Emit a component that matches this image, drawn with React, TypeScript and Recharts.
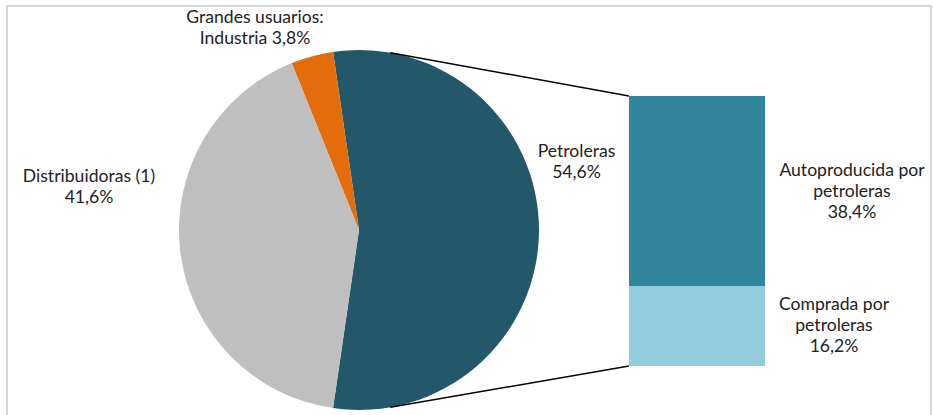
import { PieChart, Pie, Cell, BarChart, Bar, XAxis, YAxis, LabelList } from "recharts";

const W = 933;
const H = 415;

// pie: share of each consumer group (%)
const pieNames = ["Petroleras", "Grandes usuarios: Industria", "Distribuidoras (1)"];
const pieValues = [54.6, 3.8, 41.6];
const pieColors = ["#22586A", "#E46C0A", "#BFBFBF"];
const pieLabels = [
  ["Petroleras", "54,6%"],
  ["Grandes usuarios:", "Industria 3,8%"],
  ["Distribuidoras (1)", "41,6%"],
];

// bar: breakdown of the petroleras slice (%)
const barNames = ["Comprada por petroleras", "Autoproducida por petroleras"];
const barValues = [16.2, 38.4];
const barColors = ["#93CDDD", "#31859C"];
const barLabels = [
  ["Comprada por", "petroleras", "16,2%"],
  ["Autoproducida por", "petroleras", "38,4%"],
];

const pieData = pieNames.map((name, i) => ({ name, value: pieValues[i], color: pieColors[i] }));
const barRow: Record<string, string | number> = { name: "Petroleras" };
barNames.forEach((n, i) => (barRow[n] = barValues[i]));
const barData = [barRow];

// layout
const CX = 359;
const CY = 230;
const R = 180;
const half = (pieValues[0] / 100) * 180;
const BAR = { left: 629, right: 765, top: 96, bottom: 366 };

const font = "Lato, 'Noto Sans', sans-serif";
const textColor = "#222";
const FS = 17.6;
const LH = 21;

const pieLabelPos: Record<string, { x: number; y: number }> = {
  Petroleras: { x: 576.5, y: 156.5 },
  "Grandes usuarios: Industria": { x: 255, y: 23 },
  "Distribuidoras (1)": { x: 89, y: 182 },
};
const barLabelPos = [
  { x: 834, y: 310 },
  { x: 852, y: 176 },
];

function MultiLine({ x, y, lines }: { x: number; y: number; lines: string[] }) {
  return (
    <text x={x} y={y} textAnchor="middle" fontFamily={font} fontSize={FS} fill={textColor}>
      {lines.map((l, i) => (
        <tspan key={i} x={x} dy={i === 0 ? 0 : LH}>
          {l}
        </tspan>
      ))}
    </text>
  );
}

const renderPieLabel = (props: any) => {
  const idx = pieNames.indexOf(props.name);
  const pos = pieLabelPos[props.name];
  if (!pos) return null;
  return <MultiLine x={pos.x} y={pos.y} lines={pieLabels[idx]} />;
};

const barLabel = (i: number) => () => (
  <MultiLine x={barLabelPos[i].x} y={barLabelPos[i].y} lines={barLabels[i]} />
);

export default function App() {
  const a = (80 * Math.PI) / 180;
  const p1 = { x: CX + R * Math.cos(a), y: CY - R * Math.sin(a) };
  const p2 = { x: CX + R * Math.cos(a), y: CY + R * Math.sin(a) };

  return (
    <div style={{ position: "absolute", left: 0, top: 0, width: W, height: H, background: "#fff", overflow: "hidden" }}>
      <svg width={W} height={H} style={{ position: "absolute", left: 0, top: 0 }}>
        <rect x={7} y={6} width={924} height={H + 10} fill="none" stroke="#D6D6D6" strokeWidth={2} />
      </svg>
      <div style={{ position: "absolute", left: 0, top: 0 }}>
        <PieChart width={W} height={H} margin={{ top: 0, right: 0, bottom: 0, left: 0 }}>
          <Pie
            data={pieData}
            dataKey="value"
            nameKey="name"
            cx={CX}
            cy={CY}
            outerRadius={R}
            startAngle={-half}
            endAngle={360 - half}
            stroke="none"
            label={renderPieLabel}
            labelLine={false}
            isAnimationActive={false}
          >
            {pieData.map((d, i) => (
              <Cell key={`cell-${i}`} fill={d.color} />
            ))}
          </Pie>
        </PieChart>
      </div>
      <div style={{ position: "absolute", left: 0, top: 0 }}>
        <BarChart
          width={W}
          height={H}
          data={barData}
          barCategoryGap={0}
          margin={{ top: BAR.top, bottom: H - BAR.bottom, left: BAR.left, right: W - BAR.right }}
        >
          <XAxis dataKey="name" hide />
          <YAxis hide domain={[0, pieValues[0]]} />
          {barNames.map((n, i) => (
            <Bar key={n} dataKey={n} stackId="a" fill={barColors[i]} isAnimationActive={false}>
              <LabelList dataKey={n} content={barLabel(i)} />
            </Bar>
          ))}
        </BarChart>
      </div>
      <svg width={W} height={H} style={{ position: "absolute", left: 0, top: 0, pointerEvents: "none" }}>
        <line x1={p1.x} y1={p1.y} x2={BAR.left} y2={BAR.top} stroke="#000" strokeWidth={1.5} />
        <line x1={p2.x} y1={p2.y} x2={BAR.left} y2={BAR.bottom} stroke="#000" strokeWidth={1.5} />
      </svg>
    </div>
  );
}
